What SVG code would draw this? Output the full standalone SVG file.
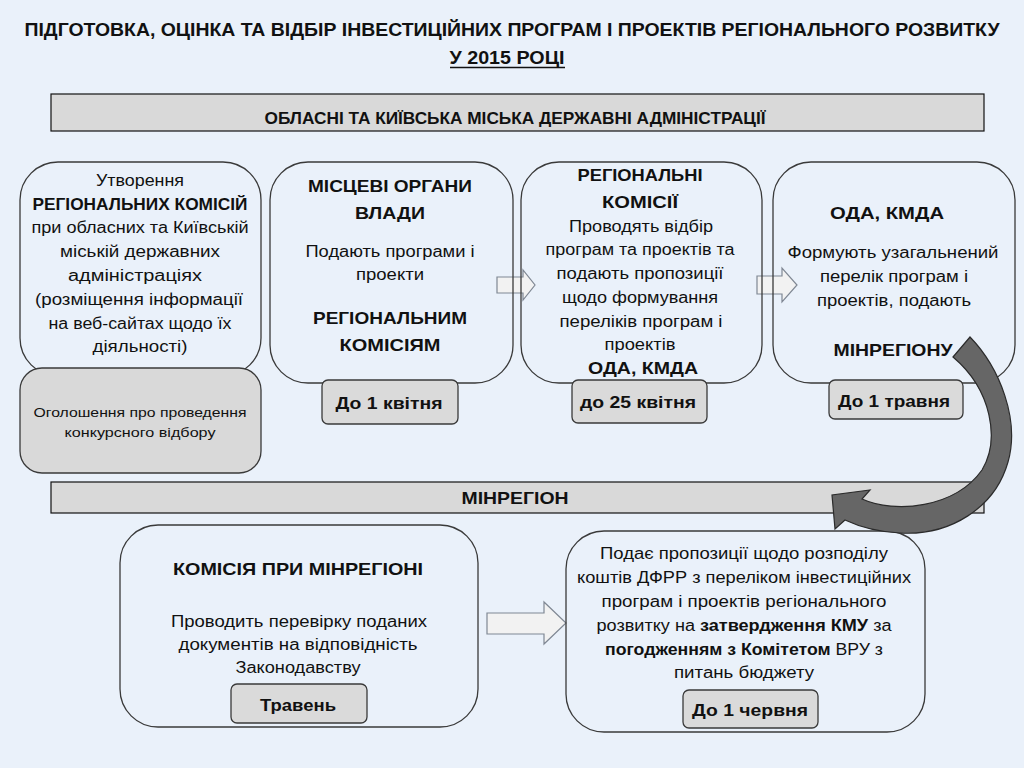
<svg xmlns="http://www.w3.org/2000/svg" width="1024" height="768" viewBox="0 0 1024 768">
<style>
text{font-family:"Liberation Sans",Arial,sans-serif;fill:#111;text-anchor:middle}
.t{font-weight:bold;font-size:19px}
.bar{fill:#D9D9D9;stroke:#111;stroke-width:1.2}
.bt{font-weight:bold;font-size:17px}
.box{fill:none;stroke:#3a3a3a;stroke-width:1.3}
.gbox{fill:#D9D9D9;stroke:#3a3a3a;stroke-width:1.3}
.date{fill:#DADADA;stroke:#3a3a3a;stroke-width:1.3}
.r{font-size:16px}
.b{font-size:17px;font-weight:bold}
.s{font-size:13.5px}
.d{font-size:17px;font-weight:bold}
.arr{fill:#F2F2F2;stroke:#7F8793;stroke-width:1.2}
.curve{fill:#666666;stroke:#2b2b2b;stroke-width:1.2}
</style>
<rect width="1024" height="768" fill="#EAF1FA"/>

<g id="title">
<text class="t" x="512" y="36" textLength="975" lengthAdjust="spacingAndGlyphs">ПІДГОТОВКА, ОЦІНКА ТА ВІДБІР ІНВЕСТИЦІЙНИХ ПРОГРАМ  І ПРОЕКТІВ РЕГІОНАЛЬНОГО  РОЗВИТКУ</text>
<text class="t" x="507" y="64" textLength="115" lengthAdjust="spacingAndGlyphs">У 2015 РОЦІ</text>
<line x1="450" y1="67.5" x2="565" y2="67.5" stroke="#111" stroke-width="1.5"/>
</g>

<g id="bar-oda">
<rect class="bar" x="51" y="94" width="933" height="37"/>
<text class="bt" x="515" y="124" textLength="501" lengthAdjust="spacingAndGlyphs">ОБЛАСНІ ТА КИЇВСЬКА МІСЬКА ДЕРЖАВНІ АДМІНІСТРАЦІЇ</text>
</g>

<g id="bar-minregion">
<rect class="bar" x="51" y="482" width="933" height="31"/>
<text class="bt" x="515" y="504" textLength="107" lengthAdjust="spacingAndGlyphs">МІНРЕГІОН</text>
</g>

<g id="connectors">
<path class="arr" d="M497,277 H523 V270 L535,285 L523,300 V293 H497 Z"/>
<path class="arr" d="M757,276 H782 V268 L797,285 L782,302 V294 H757 Z"/>
<path class="arr" d="M487,613 H544 V602 L566,623 L544,644 V634 H487 Z"/>
</g>

<g id="node-utvorennia">
<rect class="box" x="20" y="162" width="241" height="214" rx="38"/>
<text class="r" x="140" y="186" textLength="88" lengthAdjust="spacingAndGlyphs">Утворення</text>
<text class="b" x="140" y="210" textLength="215" lengthAdjust="spacingAndGlyphs">РЕГІОНАЛЬНИХ КОМІСІЙ</text>
<text class="r" x="140" y="233" textLength="217" lengthAdjust="spacingAndGlyphs">при обласних та Київській</text>
<text class="r" x="140" y="257" textLength="160" lengthAdjust="spacingAndGlyphs">міській державних</text>
<text class="r" x="135" y="281" textLength="134" lengthAdjust="spacingAndGlyphs">адміністраціях</text>
<text class="r" x="139" y="305" textLength="208" lengthAdjust="spacingAndGlyphs">(розміщення інформації</text>
<text class="r" x="140" y="329" textLength="183" lengthAdjust="spacingAndGlyphs">на веб-сайтах щодо їх</text>
<text class="r" x="140" y="352" textLength="95" lengthAdjust="spacingAndGlyphs">діяльності)</text>
</g>

<g id="node-ogoloshennia">
<rect class="gbox" x="20" y="368" width="241" height="105" rx="22"/>
<text class="s" x="140" y="417" textLength="213" lengthAdjust="spacingAndGlyphs">Оголошення про проведення</text>
<text class="s" x="140" y="437" textLength="151" lengthAdjust="spacingAndGlyphs">конкурсного  відбору</text>
</g>

<g id="node-mistsevi">
<rect class="box" x="270" y="162" width="243" height="221" rx="38"/>
<text class="b" x="390" y="192" textLength="164" lengthAdjust="spacingAndGlyphs">МІСЦЕВІ ОРГАНИ</text>
<text class="b" x="390" y="219" textLength="70" lengthAdjust="spacingAndGlyphs">ВЛАДИ</text>
<text class="r" x="390" y="257" textLength="169" lengthAdjust="spacingAndGlyphs">Подають програми і</text>
<text class="r" x="390" y="280" textLength="68" lengthAdjust="spacingAndGlyphs">проекти</text>
<text class="b" x="390" y="324" textLength="154" lengthAdjust="spacingAndGlyphs">РЕГІОНАЛЬНИМ</text>
<text class="b" x="390" y="351" textLength="101" lengthAdjust="spacingAndGlyphs">КОМІСІЯМ</text>
</g>
<g id="date-1-kvitnia">
<rect class="date" x="322" y="380" width="136" height="44" rx="6"/>
<text class="d" x="389" y="409" textLength="107" lengthAdjust="spacingAndGlyphs">До 1 квітня</text>
</g>

<g id="node-regionalni">
<rect class="box" x="521" y="162" width="241" height="221" rx="38"/>
<text class="b" x="640" y="181" textLength="125" lengthAdjust="spacingAndGlyphs">РЕГІОНАЛЬНІ</text>
<text class="b" x="640" y="208" textLength="76" lengthAdjust="spacingAndGlyphs">КОМІСІЇ</text>
<text class="r" x="641" y="232" textLength="144" lengthAdjust="spacingAndGlyphs">Проводять відбір</text>
<text class="r" x="640" y="255" textLength="189" lengthAdjust="spacingAndGlyphs">програм та проектів та</text>
<text class="r" x="640" y="279" textLength="167" lengthAdjust="spacingAndGlyphs">подають пропозиції</text>
<text class="r" x="640" y="303" textLength="156" lengthAdjust="spacingAndGlyphs">щодо формування</text>
<text class="r" x="641" y="327" textLength="163" lengthAdjust="spacingAndGlyphs">переліків програм і</text>
<text class="r" x="640" y="350" textLength="71" lengthAdjust="spacingAndGlyphs">проектів</text>
<text class="b" x="643" y="374" textLength="110" lengthAdjust="spacingAndGlyphs">ОДА,  КМДА</text>
</g>
<g id="date-25-kvitnia">
<rect class="date" x="572" y="380" width="135" height="43" rx="6"/>
<text class="d" x="638" y="408" textLength="116" lengthAdjust="spacingAndGlyphs">до 25 квітня</text>
</g>

<g id="node-oda">
<rect class="box" x="773" y="162" width="242" height="221" rx="38"/>
<text class="b" x="887" y="219" textLength="114" lengthAdjust="spacingAndGlyphs">ОДА, КМДА</text>
<text class="r" x="893" y="258" textLength="211" lengthAdjust="spacingAndGlyphs">Формують узагальнений</text>
<text class="r" x="894" y="282" textLength="148" lengthAdjust="spacingAndGlyphs">перелік програм і</text>
<text class="r" x="894" y="306" textLength="154" lengthAdjust="spacingAndGlyphs">проектів, подають</text>
<text class="b" x="893" y="356" textLength="119" lengthAdjust="spacingAndGlyphs">МІНРЕГІОНУ</text>
</g>
<g id="date-1-travnia">
<rect class="date" x="829" y="380" width="134" height="39" rx="6"/>
<text class="d" x="894" y="407" textLength="112" lengthAdjust="spacingAndGlyphs">До 1 травня</text>
</g>

<g id="node-komisiia">
<rect class="box" x="120" y="525" width="358" height="202" rx="38"/>
<text class="b" x="298" y="575" textLength="250" lengthAdjust="spacingAndGlyphs">КОМІСІЯ ПРИ МІНРЕГІОНІ</text>
<text class="r" x="299" y="627" textLength="256" lengthAdjust="spacingAndGlyphs">Проводить перевірку поданих</text>
<text class="r" x="298" y="650" textLength="239" lengthAdjust="spacingAndGlyphs">документів на відповідність</text>
<text class="r" x="298" y="673" textLength="125" lengthAdjust="spacingAndGlyphs">Законодавству</text>
</g>
<g id="date-traven">
<rect class="date" x="231" y="684" width="136" height="39" rx="6"/>
<text class="d" x="298" y="711" textLength="76" lengthAdjust="spacingAndGlyphs">Травень</text>
</g>

<g id="node-podaie">
<rect class="box" x="566" y="531" width="359" height="201" rx="38"/>
<text class="r" x="744" y="559" textLength="288" lengthAdjust="spacingAndGlyphs">Подає пропозиції щодо розподілу</text>
<text class="r" x="744" y="583" textLength="334" lengthAdjust="spacingAndGlyphs">коштів ДФРР з переліком інвестиційних</text>
<text class="r" x="744" y="607" textLength="285" lengthAdjust="spacingAndGlyphs">програм і проектів регіонального</text>
<text class="r" x="744" y="631" textLength="295" lengthAdjust="spacingAndGlyphs">розвитку на <tspan font-weight="bold">затвердження КМУ</tspan> за</text>
<text class="r" x="744" y="655" textLength="278" lengthAdjust="spacingAndGlyphs"><tspan font-weight="bold">погодженням з Комітетом</tspan> ВРУ з</text>
<text class="r" x="744" y="678" textLength="140" lengthAdjust="spacingAndGlyphs">питань бюджету</text>
</g>
<g id="date-1-chervnia">
<rect class="date" x="683" y="690" width="135" height="38" rx="6"/>
<text class="d" x="750" y="716" textLength="116" lengthAdjust="spacingAndGlyphs">До 1 червня</text>
</g>

<g id="connector-curved">
<path class="curve" d="M970,337 C1000,368 1020,420 1008,462 C995,508 950,536 900,533 C880,532 862,528 845,520 L835,529 L832,495 L870,490 L862,499 C895,514 955,508 982,470 C1000,440 992,390 953,357 Z"/>
</g>
</svg>
